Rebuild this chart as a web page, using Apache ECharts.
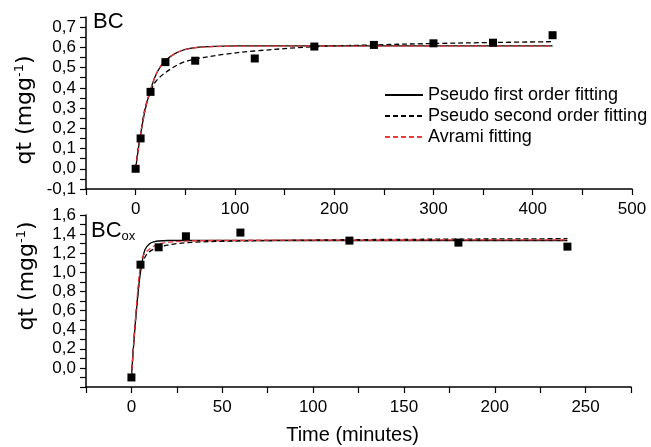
<!DOCTYPE html>
<html>
<head>
<meta charset="utf-8">
<script src="https://cdn.jsdelivr.net/npm/echarts@6/dist/echarts.min.js"></script>
<style>
  html, body { margin: 0; padding: 0; background: #fff; }
  #chart { width: 651px; height: 447px; }
</style>
</head>
<body>
<div id="chart"></div>
<script>
// ---- BC: measured uptake (minutes, mg/g) ----
const bcTime = [0, 5, 15, 30, 60, 120, 180, 240, 300, 360, 420];
const bcQt   = [0.0, 0.15, 0.38, 0.527, 0.534, 0.545, 0.604, 0.612, 0.62, 0.623, 0.66];

// ---- BC: fitted kinetic curves ----
const bcFitTime = [0, 2.5, 5, 7.5, 10, 15, 20, 25, 30, 40, 50, 60, 80, 100, 150, 200, 300, 420];
const bcPFO     = [0, 0.09, 0.17, 0.24, 0.30, 0.39, 0.46, 0.505, 0.535, 0.570, 0.590, 0.599, 0.605, 0.607, 0.607, 0.607, 0.607, 0.607];
const bcAvrami  = [0, 0.09, 0.17, 0.24, 0.30, 0.39, 0.46, 0.505, 0.535, 0.570, 0.589, 0.598, 0.604, 0.606, 0.606, 0.606, 0.606, 0.606];
const bcPSOTime = [0, 2.5, 5, 7.5, 10, 15, 20, 30, 45, 60, 90, 120, 180, 240, 300, 360, 420];
const bcPSO     = [0, 0.10, 0.17, 0.25, 0.31, 0.38, 0.43, 0.475, 0.52, 0.542, 0.566, 0.582, 0.603, 0.612, 0.619, 0.624, 0.628];

// ---- BCox: measured uptake ----
const oxTime = [0, 5, 15, 30, 60, 120, 180, 240];
const oxQt   = [-0.1, 1.08, 1.262, 1.377, 1.416, 1.332, 1.311, 1.269];

// ---- BCox: fitted kinetic curves ----
const oxPFOTime = [0, 1, 2, 3, 4, 5, 6, 7.5, 10, 12.5, 15, 20, 60, 120, 240];
const oxPFO     = [-0.1, 0.18, 0.43, 0.65, 0.85, 1.0, 1.12, 1.24, 1.30, 1.32, 1.328, 1.333, 1.333, 1.333, 1.333];
const oxPSOTime = [0, 1, 2, 3, 4, 5, 7.5, 10, 15, 25, 35, 50, 100, 150, 240];
const oxPSO     = [-0.1, 0.2, 0.45, 0.66, 0.86, 1.03, 1.16, 1.217, 1.262, 1.30, 1.315, 1.325, 1.338, 1.345, 1.352];
const oxAvrTime = [0, 1, 2, 3, 4, 5, 5.5, 7.5, 10, 15, 24, 40, 100, 240];
const oxAvrami  = [-0.1, 0.17, 0.45, 0.7, 0.92, 1.08, 1.14, 1.2, 1.245, 1.297, 1.32, 1.332, 1.337, 1.34];

// ---- axis ticks ----
const bcXTicks = { min: -50, max: 500, step: 50, labelEvery: 100 };
const bcYTicks = { min: -0.1, max: 0.75, step: 0.05, labelEvery: 0.1 };
const oxXTicks = { min: -25, max: 275, step: 25, labelEvery: 50 };
const oxYTicks = { min: -0.2, max: 1.6, step: 0.1, labelEvery: 0.2 };

const legendNames = ['Pseudo first order fitting', 'Pseudo second order fitting', 'Avrami fitting'];

const FONT = 'Liberation Sans, Arial, sans-serif';
const pair = (xs, ys) => xs.map((x, i) => [x, ys[i]]);
const onStep = (v, s) => Math.abs(Math.round(v / s) * s - v) < 1e-6;

function xAxisFor(t, gridIndex, extra) {
  return Object.assign({
    type: 'value', gridIndex,
    min: t.min, max: t.max, interval: t.step,
    axisLine: { show: true, onZero: false, lineStyle: { color: '#000', width: 1.5 } },
    axisTick: { show: true, length: 6, lineStyle: { color: '#000', width: 1.2 } },
    splitLine: { show: false },
    axisLabel: {
      color: '#000', fontFamily: FONT, fontSize: 17, margin: 12,
      showMinLabel: true, showMaxLabel: true,
      formatter: v => (v >= 0 && onStep(v, t.labelEvery)) ? String(Math.round(v)) : ''
    }
  }, extra || {});
}

function yAxisFor(t, gridIndex, pad) {
  return {
    type: 'value', gridIndex,
    min: t.min, max: t.max, interval: t.step,
    axisLine: { show: true, onZero: false, lineStyle: { color: '#000', width: 1.5 } },
    axisTick: { show: true, length: 6, lineStyle: { color: '#000', width: 1.2 } },
    splitLine: { show: false },
    axisLabel: {
      color: '#000', fontFamily: FONT, fontSize: 17, margin: 10,
      showMinLabel: true, showMaxLabel: true,
      formatter: v => (onStep(v, t.labelEvery) && (t.min >= -0.15 || v > -1e-9))
        ? v.toFixed(1).replace('.', ',').replace('-0,0', '0,0') : ''
    },
    name: '{n|qt (mgg}{s|-1}{n|)}',
    nameLocation: 'middle',
    nameRotate: 90,
    nameGap: 47,
    nameTextStyle: {
      color: '#000',
      padding: pad,
      rich: {
        n: { fontFamily: 'DejaVu Sans', fontSize: 22, color: '#000', lineHeight: 24 },
        s: { fontFamily: 'DejaVu Sans', fontSize: 13, color: '#000', lineHeight: 14, verticalAlign: 'top' }
      }
    }
  };
}

const lineBase = (name, data, xi, color, type, z) => ({
  name, type: 'line', data, xAxisIndex: xi, yAxisIndex: xi,
  smooth: 0.35, symbol: 'none', showSymbol: false, z,
  lineStyle: { color, width: 1.3, type },
  itemStyle: { color }
});

const scatterBase = (data, xi) => ({
  name: 'data', type: 'scatter', data, xAxisIndex: xi, yAxisIndex: xi,
  symbol: 'rect', symbolSize: 8, z: 10,
  itemStyle: { color: '#000', opacity: 1 }
});

const RED = '#ee3a3a';
const DASH = [5, 3];

const option = {
  animation: false,
  backgroundColor: '#fff',
  grid: [
    { left: 86, right: 19, top: 17, height: 172 },
    { left: 86, right: 20, top: 215, height: 172 }
  ],
  xAxis: [
    xAxisFor(bcXTicks, 0),
    xAxisFor(oxXTicks, 1, {
      name: 'Time (minutes)', nameLocation: 'middle', nameGap: 38,
      nameTextStyle: { color: '#000', fontFamily: FONT, fontSize: 20, padding: [0, 12, 0, 0] }
    })
  ],
  yAxis: [
    yAxisFor(bcYTicks, 0, [0, 14, 0, 0]),
    yAxisFor(oxYTicks, 1, [0, 0, 0, 50])
  ],
  legend: {
    data: legendNames,
    orient: 'vertical',
    left: 379, top: 81,
    itemWidth: 38, itemHeight: 14, itemGap: 3,
    itemStyle: { opacity: 0 },
    textStyle: { color: '#000', fontFamily: FONT, fontSize: 18 },
    selectedMode: false
  },
  graphic: [
    { type: 'text', left: 93, top: 11,
      style: { text: 'BC', font: '22px ' + FONT, fill: '#000' } },
    { type: 'text', left: 91, top: 220,
      style: {
        text: '{a|BC}{b|ox}', fill: '#000',
        rich: {
          a: { fontFamily: FONT, fontSize: 22, lineHeight: 24, fill: '#000' },
          b: { fontFamily: FONT, fontSize: 13, lineHeight: 4, verticalAlign: 'bottom', fill: '#000' }
        }
      } }
  ],
  series: [
    lineBase(legendNames[0], pair(bcFitTime, bcPFO), 0, '#000', 'solid', 3),
    lineBase(legendNames[1], pair(bcPSOTime, bcPSO), 0, '#000', DASH, 4),
    lineBase(legendNames[2], pair(bcFitTime, bcAvrami), 0, RED, DASH, 5),
    scatterBase(pair(bcTime, bcQt), 0),
    lineBase(legendNames[0], pair(oxPFOTime, oxPFO), 1, '#000', 'solid', 3),
    lineBase(legendNames[1], pair(oxPSOTime, oxPSO), 1, '#000', DASH, 4),
    lineBase(legendNames[2], pair(oxAvrTime, oxAvrami), 1, RED, DASH, 5),
    scatterBase(pair(oxTime, oxQt), 1)
  ]
};

const chart = echarts.init(document.getElementById('chart'), null, { renderer: 'canvas' });
chart.setOption(option);
</script>
</body>
</html>
